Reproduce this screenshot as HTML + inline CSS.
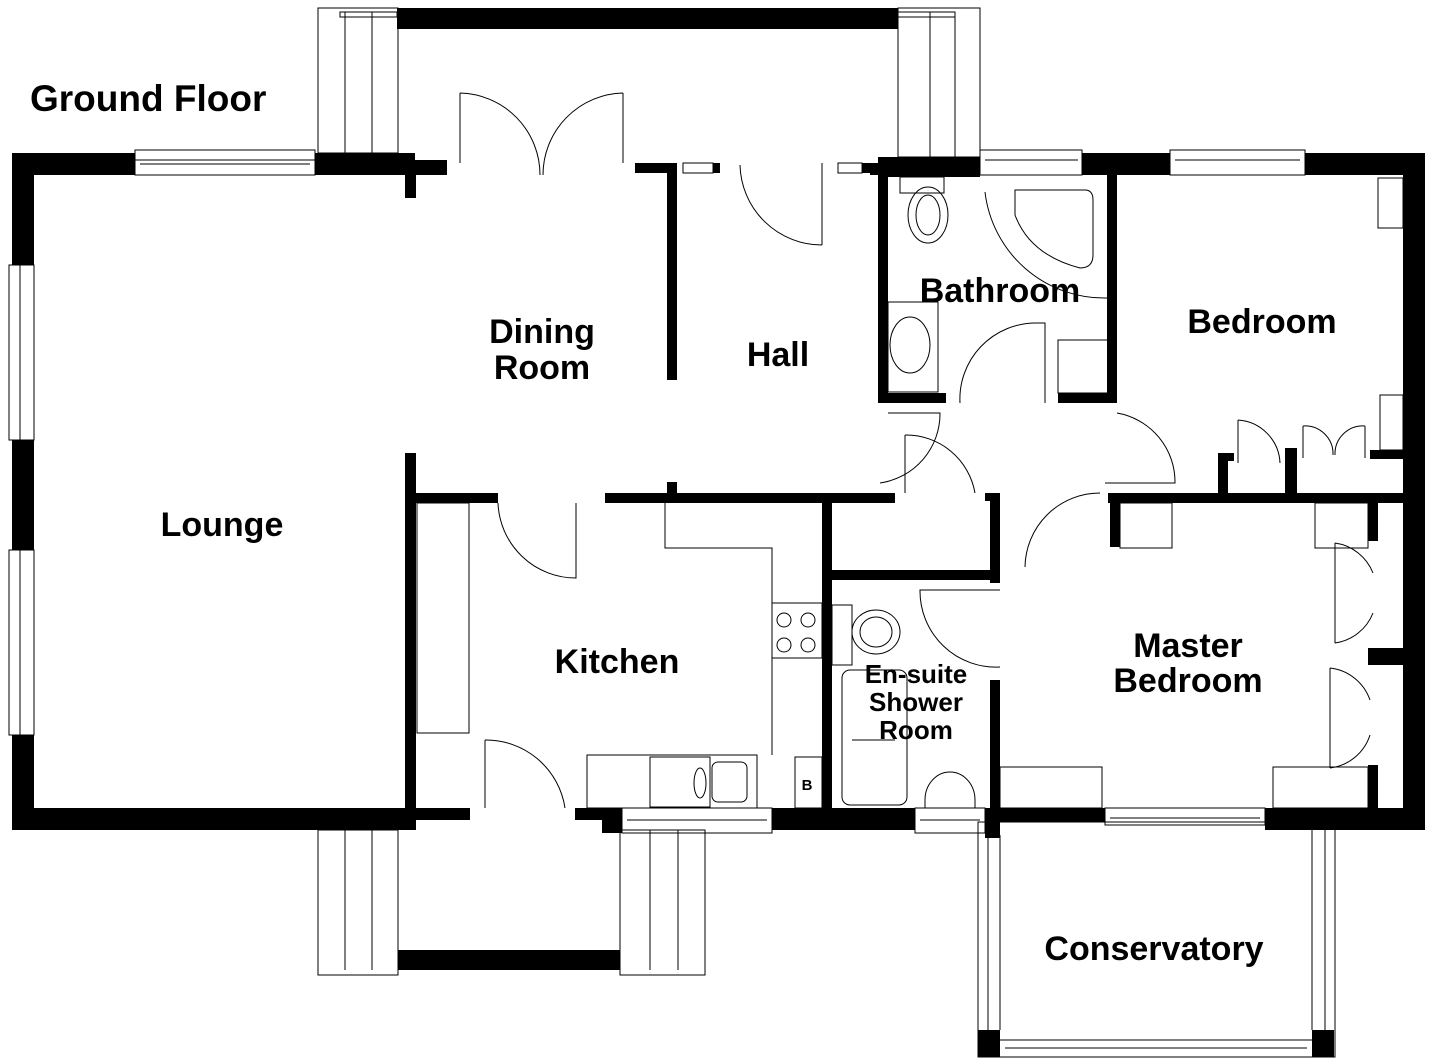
<!DOCTYPE html>
<html><head><meta charset="utf-8"><style>
html,body{margin:0;padding:0;background:#fff;}
svg{display:block}
text{font-family:"Liberation Sans",sans-serif;font-weight:bold;fill:#000;}
</style></head><body>
<svg width="1432" height="1064" viewBox="0 0 1432 1064" xmlns="http://www.w3.org/2000/svg">
<g fill="#000">
<rect x="397" y="8" width="501" height="21"/>
<rect x="12" y="153" width="123" height="22"/>
<rect x="315" y="153" width="100" height="22"/>
<rect x="415" y="160" width="32" height="15"/>
<rect x="405" y="175" width="11" height="23"/>
<rect x="12" y="153" width="22" height="112"/>
<rect x="12" y="440" width="22" height="110"/>
<rect x="12" y="735" width="22" height="95"/>
<rect x="12" y="808" width="403" height="22"/>
<rect x="405" y="453" width="11" height="377"/>
<rect x="415" y="808" width="55" height="12"/>
<rect x="575" y="808" width="47" height="12"/>
<rect x="602" y="808" width="20" height="25"/>
<rect x="772" y="808" width="143" height="22"/>
<rect x="985" y="808" width="120" height="14"/>
<rect x="1265" y="808" width="160" height="22"/>
<rect x="985" y="808" width="15" height="30"/>
<rect x="1403" y="153" width="22" height="677"/>
<rect x="878" y="157" width="102" height="20"/>
<rect x="1082" y="153" width="88" height="22"/>
<rect x="1305" y="153" width="120" height="22"/>
<rect x="635" y="163" width="40" height="10"/>
<rect x="713" y="163" width="7" height="10"/>
<rect x="862" y="163" width="8" height="10"/>
<rect x="870" y="163" width="10" height="12"/>
<rect x="667" y="163" width="10" height="217"/>
<rect x="415" y="493" width="83" height="10"/>
<rect x="605" y="493" width="290" height="10"/>
<rect x="667" y="482" width="10" height="12"/>
<rect x="822" y="503" width="10" height="327"/>
<rect x="878" y="175" width="10" height="228"/>
<rect x="878" y="393" width="68" height="10"/>
<rect x="1058" y="393" width="57" height="10"/>
<rect x="1107" y="175" width="10" height="228"/>
<rect x="985" y="493" width="15" height="8"/>
<rect x="990" y="493" width="10" height="90"/>
<rect x="832" y="570" width="168" height="10"/>
<rect x="990" y="680" width="10" height="150"/>
<rect x="1108" y="493" width="317" height="10"/>
<rect x="1218" y="453" width="10" height="42"/>
<rect x="1218" y="453" width="16" height="8"/>
<rect x="1285" y="448" width="12" height="47"/>
<rect x="1370" y="450" width="33" height="9"/>
<rect x="1110" y="503" width="10" height="44"/>
<rect x="1368" y="503" width="10" height="38"/>
<rect x="1368" y="648" width="35" height="17"/>
<rect x="1368" y="765" width="10" height="45"/>
<rect x="978" y="1030" width="22" height="27"/>
<rect x="1312" y="1030" width="22" height="27"/>
<rect x="398" y="950" width="222" height="20"/>
</g>
<g fill="none" stroke="#000" stroke-width="1">
<rect x="318" y="8" width="80" height="145"/><line x1="345" y1="12" x2="345" y2="153"/><line x1="372" y1="12" x2="372" y2="153"/><rect x="340" y="12" width="57" height="5"/>
<rect x="898" y="8" width="82" height="149"/><line x1="930" y1="12" x2="930" y2="157"/><line x1="955" y1="12" x2="955" y2="157"/><rect x="898" y="12" width="57" height="5"/>
<rect x="135" y="150" width="180" height="25"/><line x1="135" y1="160" x2="315" y2="160"/><line x1="140" y1="164" x2="310" y2="164"/>
<rect x="980" y="150" width="102" height="25"/><line x1="985" y1="160" x2="1078" y2="160"/>
<rect x="1170" y="150" width="135" height="25"/><line x1="1175" y1="160" x2="1300" y2="160"/>
<rect x="683" y="163" width="30" height="10"/><rect x="838" y="163" width="24" height="10"/>
<rect x="9" y="265" width="25" height="175"/><line x1="20" y1="265" x2="20" y2="440"/>
<rect x="9" y="550" width="25" height="185"/><line x1="20" y1="550" x2="20" y2="735"/>
<rect x="622" y="808" width="150" height="25"/><line x1="627" y1="820" x2="767" y2="820"/>
<rect x="915" y="808" width="70" height="25"/><line x1="920" y1="820" x2="980" y2="820"/>
<rect x="1105" y="808" width="160" height="17"/><line x1="1110" y1="818" x2="1260" y2="818"/>
<rect x="318" y="830" width="80" height="145"/><line x1="345" y1="830" x2="345" y2="970"/><line x1="372" y1="830" x2="372" y2="970"/>
<rect x="620" y="830" width="85" height="145"/><line x1="650" y1="830" x2="650" y2="970"/><line x1="678" y1="830" x2="678" y2="970"/>
<rect x="978" y="822" width="357" height="235"/><line x1="1000" y1="835" x2="1000" y2="1030"/><line x1="988" y1="835" x2="988" y2="1030"/>
<line x1="1312" y1="822" x2="1312" y2="1030"/><line x1="1325" y1="830" x2="1325" y2="1030"/>
<line x1="1000" y1="1040" x2="1312" y2="1040"/><line x1="1005" y1="1048" x2="1307" y2="1048"/>
<path d="M460 93 V163 M460 93 A82 82 0 0 1 540 175 M623 93 V163 M623 93 A82 82 0 0 0 543 175"/>
<path d="M822 245 V163 M822 245 A82 82 0 0 1 740 165"/>
<path d="M498 503 A78 78 0 0 0 576 578 V503"/>
<path d="M485 740 A80 80 0 0 1 565 808 M485 740 V808"/>
<path d="M960 403 A76 76 0 0 1 1036 323 H1045 V403"/>
<path d="M888 413 H940 A70 70 0 0 1 880 483"/>
<path d="M905 435 A70 70 0 0 1 975 493 M905 435 V493"/>
<path d="M1117 413 A70 70 0 0 1 1175 483 H1105"/>
<path d="M1025 567 A75 75 0 0 1 1100 493"/>
<path d="M1000 667 A76 76 0 0 1 920 590 H1000"/>
<path d="M985 192 A120 120 0 0 0 1107 298"/>
<path d="M1238 420 A45 45 0 0 1 1280 463 M1238 420 V463"/>
<path d="M1303 426 A28 28 0 0 1 1333 455 M1365 426 A28 28 0 0 0 1335 455 M1303 426 V458 M1365 426 V458"/>
<path d="M1335 543 V643 M1335 543 A48 48 0 0 1 1373 573 M1335 643 A48 48 0 0 0 1373 613"/>
<path d="M1330 668 V768 M1330 668 A48 48 0 0 1 1370 700 M1330 768 A48 48 0 0 0 1370 735"/>
<rect x="900" y="177" width="44" height="16"/><ellipse cx="928" cy="215" rx="20" ry="28"/><ellipse cx="928" cy="215" rx="12" ry="20"/>
<path d="M1015 190 H1085 Q1093 190 1093 200 V255 Q1093 268 1080 268 Q1030 255 1015 215 Z"/>
<rect x="888" y="302" width="50" height="90"/><ellipse cx="910" cy="345" rx="20" ry="28"/>
<rect x="1058" y="340" width="50" height="53"/>
<rect x="1378" y="178" width="25" height="50"/><rect x="1380" y="395" width="23" height="55"/>
<rect x="417" y="503" width="52" height="230"/>
<path d="M665 503 V548 H772 V755"/>
<rect x="772" y="603" width="50" height="55"/><circle cx="784" cy="620" r="7"/><circle cx="808" cy="620" r="7"/><circle cx="784" cy="645" r="7"/><circle cx="808" cy="645" r="7"/>
<rect x="587" y="755" width="170" height="53"/><rect x="650" y="757" width="60" height="50"/><rect x="712" y="762" width="35" height="40" rx="6"/><ellipse cx="700" cy="783" rx="6" ry="15"/>
<rect x="795" y="757" width="27" height="51"/>
<rect x="832" y="605" width="20" height="60"/><ellipse cx="876" cy="632" rx="24" ry="22"/><ellipse cx="876" cy="632" rx="16" ry="15"/>
<rect x="842" y="670" width="65" height="135" rx="8"/><line x1="852" y1="740" x2="895" y2="740"/>
<path d="M925 808 V800 A25 28 0 0 1 975 800 V808"/>
<rect x="1000" y="767" width="102" height="41"/><rect x="1273" y="767" width="95" height="41"/>
<rect x="1120" y="503" width="52" height="45"/><rect x="1315" y="503" width="53" height="45"/>
</g>
<g font-size="37"><text x="30" y="111">Ground Floor</text></g>
<g font-size="34" text-anchor="middle">
<text x="542" y="343">Dining</text><text x="542" y="379">Room</text>
<text x="778" y="366">Hall</text>
<text x="1000" y="302">Bathroom</text>
<text x="1262" y="333">Bedroom</text>
<text x="222" y="536">Lounge</text>
<text x="617" y="673">Kitchen</text>
<text x="1188" y="657">Master</text><text x="1188" y="692">Bedroom</text>
<text x="1154" y="960">Conservatory</text>
</g>
<g font-size="26" text-anchor="middle">
<text x="916" y="683">En-suite</text><text x="916" y="711">Shower</text><text x="916" y="739">Room</text>
</g>
<text x="807" y="790" font-size="15" text-anchor="middle">B</text>
</svg>
</body></html>
